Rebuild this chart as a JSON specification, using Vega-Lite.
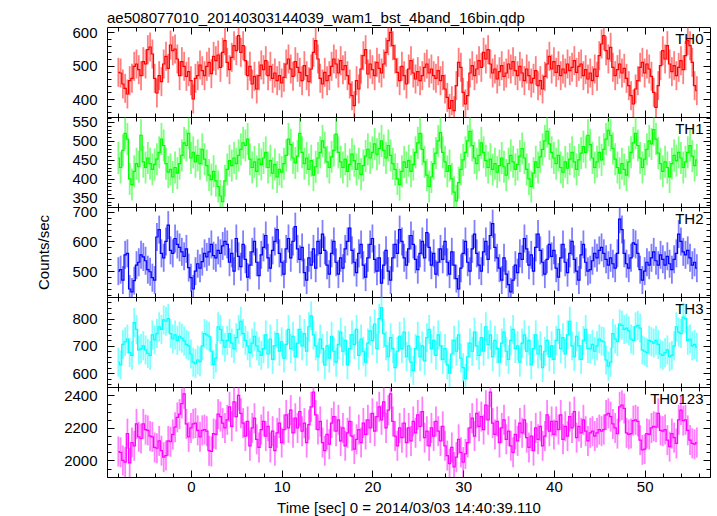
{
"$schema": "https://vega.github.io/schema/vega-lite/v6.json",
"background": "white",
"padding": {"left": 36, "top": 10, "right": 5, "bottom": 5},
"bounds": "flush",
"title": {"text": "ae508077010_20140303144039_wam1_bst_4band_16bin.qdp", "anchor": "start", "frame": "group", "baseline": "alphabetic", "offset": -13},
"config": {
 "font": "Liberation Sans",
 "view": {"stroke": "black", "strokeWidth": 1},
 "title": {"fontSize": 15, "fontWeight": "normal", "color": "black", "font": "Liberation Sans"},
 "axis": {"grid": false, "domain": false, "tickColor": "black", "tickWidth": 1, "labelColor": "black", "labelFontSize": 15, "labelFont": "Liberation Sans", "titleFont": "Liberation Sans", "titleFontSize": 15, "titleFontWeight": "normal", "titleColor": "black", "labelOverlap": false, "labelFlush": false}
},
"spacing": 0,
"data": {"values": [
{"t":-8,"TH0":480,"TH1":455,"TH2":500,"TH3":640,"TH0123":2055},
{"t":-7.75,"TH0":478,"TH1":430,"TH2":505,"TH3":630,"TH0123":2050},
{"t":-7.5,"TH0":445,"TH1":475,"TH2":470,"TH3":705,"TH0123":2000},
{"t":-7.25,"TH0":432,"TH1":520,"TH2":555,"TH3":715,"TH0123":1990},
{"t":-7,"TH0":415,"TH1":505,"TH2":560,"TH3":725,"TH0123":2165},
{"t":-6.75,"TH0":455,"TH1":400,"TH2":440,"TH3":675,"TH0123":1985},
{"t":-6.5,"TH0":462,"TH1":385,"TH2":430,"TH3":665,"TH0123":2110},
{"t":-6.25,"TH0":498,"TH1":420,"TH2":468,"TH3":785,"TH0123":2090},
{"t":-6,"TH0":505,"TH1":440,"TH2":520,"TH3":760,"TH0123":2225},
{"t":-5.75,"TH0":488,"TH1":432,"TH2":530,"TH3":685,"TH0123":2145},
{"t":-5.5,"TH0":470,"TH1":515,"TH2":555,"TH3":690,"TH0123":2135},
{"t":-5.25,"TH0":512,"TH1":445,"TH2":548,"TH3":700,"TH0123":2225},
{"t":-5,"TH0":505,"TH1":430,"TH2":535,"TH3":685,"TH0123":2190},
{"t":-4.75,"TH0":548,"TH1":455,"TH2":505,"TH3":672,"TH0123":2185},
{"t":-4.5,"TH0":556,"TH1":440,"TH2":498,"TH3":665,"TH0123":2150},
{"t":-4.25,"TH0":535,"TH1":425,"TH2":478,"TH3":740,"TH0123":2145},
{"t":-4,"TH0":462,"TH1":438,"TH2":470,"TH3":722,"TH0123":2080},
{"t":-3.75,"TH0":418,"TH1":452,"TH2":615,"TH3":745,"TH0123":2075},
{"t":-3.5,"TH0":470,"TH1":470,"TH2":640,"TH3":770,"TH0123":2120},
{"t":-3.25,"TH0":452,"TH1":505,"TH2":560,"TH3":760,"TH0123":2060},
{"t":-3,"TH0":505,"TH1":488,"TH2":545,"TH3":795,"TH0123":2020},
{"t":-2.75,"TH0":528,"TH1":440,"TH2":600,"TH3":790,"TH0123":2030},
{"t":-2.5,"TH0":492,"TH1":418,"TH2":655,"TH3":800,"TH0123":2120},
{"t":-2.25,"TH0":562,"TH1":425,"TH2":570,"TH3":745,"TH0123":2115},
{"t":-2,"TH0":545,"TH1":405,"TH2":560,"TH3":725,"TH0123":2160},
{"t":-1.75,"TH0":550,"TH1":430,"TH2":610,"TH3":740,"TH0123":2205},
{"t":-1.5,"TH0":520,"TH1":415,"TH2":590,"TH3":720,"TH0123":2265},
{"t":-1.25,"TH0":470,"TH1":440,"TH2":580,"TH3":735,"TH0123":2285},
{"t":-1,"TH0":512,"TH1":462,"TH2":565,"TH3":728,"TH0123":2350},
{"t":-0.75,"TH0":498,"TH1":495,"TH2":550,"TH3":718,"TH0123":2410},
{"t":-0.5,"TH0":468,"TH1":488,"TH2":575,"TH3":705,"TH0123":2225},
{"t":-0.25,"TH0":482,"TH1":520,"TH2":512,"TH3":700,"TH0123":2145},
{"t":0,"TH0":455,"TH1":455,"TH2":478,"TH3":670,"TH0123":2200},
{"t":0.25,"TH0":400,"TH1":470,"TH2":440,"TH3":640,"TH0123":2225},
{"t":0.5,"TH0":462,"TH1":445,"TH2":500,"TH3":635,"TH0123":2230},
{"t":0.75,"TH0":470,"TH1":462,"TH2":525,"TH3":648,"TH0123":2185},
{"t":1,"TH0":502,"TH1":440,"TH2":510,"TH3":642,"TH0123":2145},
{"t":1.25,"TH0":485,"TH1":478,"TH2":532,"TH3":700,"TH0123":2185},
{"t":1.5,"TH0":470,"TH1":452,"TH2":560,"TH3":745,"TH0123":2190},
{"t":1.75,"TH0":498,"TH1":435,"TH2":548,"TH3":740,"TH0123":2180},
{"t":2,"TH0":510,"TH1":410,"TH2":565,"TH3":735,"TH0123":2060},
{"t":2.25,"TH0":476,"TH1":398,"TH2":590,"TH3":680,"TH0123":2055},
{"t":2.5,"TH0":528,"TH1":420,"TH2":552,"TH3":632,"TH0123":2165},
{"t":2.75,"TH0":515,"TH1":395,"TH2":545,"TH3":655,"TH0123":2160},
{"t":3,"TH0":532,"TH1":380,"TH2":570,"TH3":770,"TH0123":2285},
{"t":3.25,"TH0":495,"TH1":355,"TH2":560,"TH3":760,"TH0123":2270},
{"t":3.5,"TH0":540,"TH1":340,"TH2":585,"TH3":720,"TH0123":2230},
{"t":3.75,"TH0":575,"TH1":395,"TH2":600,"TH3":695,"TH0123":2200},
{"t":4,"TH0":510,"TH1":425,"TH2":590,"TH3":720,"TH0123":2250},
{"t":4.25,"TH0":488,"TH1":448,"TH2":530,"TH3":745,"TH0123":2330},
{"t":4.5,"TH0":525,"TH1":435,"TH2":560,"TH3":710,"TH0123":2210},
{"t":4.75,"TH0":560,"TH1":455,"TH2":500,"TH3":690,"TH0123":2360},
{"t":5,"TH0":545,"TH1":440,"TH2":610,"TH3":730,"TH0123":2270},
{"t":5.25,"TH0":590,"TH1":462,"TH2":550,"TH3":760,"TH0123":2400},
{"t":5.5,"TH0":540,"TH1":478,"TH2":515,"TH3":790,"TH0123":2290},
{"t":5.75,"TH0":560,"TH1":495,"TH2":590,"TH3":745,"TH0123":2230},
{"t":6,"TH0":515,"TH1":488,"TH2":540,"TH3":720,"TH0123":2150},
{"t":6.25,"TH0":470,"TH1":505,"TH2":480,"TH3":700,"TH0123":2240},
{"t":6.5,"TH0":498,"TH1":452,"TH2":520,"TH3":675,"TH0123":2090},
{"t":6.75,"TH0":445,"TH1":430,"TH2":565,"TH3":710,"TH0123":2200},
{"t":7,"TH0":468,"TH1":445,"TH2":600,"TH3":735,"TH0123":2260},
{"t":7.25,"TH0":430,"TH1":420,"TH2":530,"TH3":700,"TH0123":2130},
{"t":7.5,"TH0":470,"TH1":452,"TH2":485,"TH3":680,"TH0123":2080},
{"t":7.75,"TH0":502,"TH1":438,"TH2":555,"TH3":665,"TH0123":2190},
{"t":8,"TH0":488,"TH1":455,"TH2":580,"TH3":690,"TH0123":2240},
{"t":8.25,"TH0":515,"TH1":470,"TH2":620,"TH3":740,"TH0123":2150},
{"t":8.5,"TH0":470,"TH1":430,"TH2":545,"TH3":670,"TH0123":2210},
{"t":8.75,"TH0":498,"TH1":448,"TH2":510,"TH3":725,"TH0123":2080},
{"t":9,"TH0":462,"TH1":415,"TH2":570,"TH3":650,"TH0123":2180},
{"t":9.25,"TH0":478,"TH1":438,"TH2":600,"TH3":700,"TH0123":2060},
{"t":9.5,"TH0":455,"TH1":405,"TH2":640,"TH3":745,"TH0123":2170},
{"t":9.75,"TH0":470,"TH1":425,"TH2":560,"TH3":680,"TH0123":2230},
{"t":10,"TH0":448,"TH1":418,"TH2":530,"TH3":715,"TH0123":2110},
{"t":10.25,"TH0":465,"TH1":440,"TH2":490,"TH3":655,"TH0123":2190},
{"t":10.5,"TH0":505,"TH1":462,"TH2":575,"TH3":705,"TH0123":2280},
{"t":10.75,"TH0":520,"TH1":505,"TH2":610,"TH3":760,"TH0123":2200},
{"t":11,"TH0":490,"TH1":490,"TH2":545,"TH3":690,"TH0123":2310},
{"t":11.25,"TH0":468,"TH1":455,"TH2":600,"TH3":735,"TH0123":2170},
{"t":11.5,"TH0":512,"TH1":442,"TH2":650,"TH3":660,"TH0123":2260},
{"t":11.75,"TH0":495,"TH1":460,"TH2":575,"TH3":710,"TH0123":2200},
{"t":12,"TH0":480,"TH1":520,"TH2":540,"TH3":760,"TH0123":2300},
{"t":12.25,"TH0":455,"TH1":470,"TH2":580,"TH3":700,"TH0123":2180},
{"t":12.5,"TH0":500,"TH1":440,"TH2":495,"TH3":745,"TH0123":2230},
{"t":12.75,"TH0":470,"TH1":455,"TH2":470,"TH3":680,"TH0123":2110},
{"t":13,"TH0":452,"TH1":425,"TH2":545,"TH3":770,"TH0123":2220},
{"t":13.25,"TH0":490,"TH1":448,"TH2":520,"TH3":810,"TH0123":2330},
{"t":13.5,"TH0":540,"TH1":410,"TH2":575,"TH3":740,"TH0123":2420},
{"t":13.75,"TH0":575,"TH1":432,"TH2":510,"TH3":700,"TH0123":2280},
{"t":14,"TH0":520,"TH1":455,"TH2":600,"TH3":660,"TH0123":2190},
{"t":14.25,"TH0":462,"TH1":470,"TH2":560,"TH3":725,"TH0123":2240},
{"t":14.5,"TH0":445,"TH1":500,"TH2":625,"TH3":690,"TH0123":2110},
{"t":14.75,"TH0":480,"TH1":482,"TH2":570,"TH3":630,"TH0123":2060},
{"t":15,"TH0":455,"TH1":445,"TH2":520,"TH3":700,"TH0123":2160},
{"t":15.25,"TH0":470,"TH1":430,"TH2":490,"TH3":655,"TH0123":2100},
{"t":15.5,"TH0":498,"TH1":458,"TH2":560,"TH3":735,"TH0123":2230},
{"t":15.75,"TH0":520,"TH1":475,"TH2":600,"TH3":680,"TH0123":2270},
{"t":16,"TH0":505,"TH1":518,"TH2":530,"TH3":640,"TH0123":2180},
{"t":16.25,"TH0":478,"TH1":470,"TH2":490,"TH3":705,"TH0123":2250},
{"t":16.5,"TH0":515,"TH1":445,"TH2":545,"TH3":750,"TH0123":2120},
{"t":16.75,"TH0":488,"TH1":430,"TH2":510,"TH3":680,"TH0123":2200},
{"t":17,"TH0":500,"TH1":452,"TH2":575,"TH3":720,"TH0123":2090},
{"t":17.25,"TH0":470,"TH1":420,"TH2":600,"TH3":630,"TH0123":2170},
{"t":17.5,"TH0":445,"TH1":438,"TH2":645,"TH3":690,"TH0123":2240},
{"t":17.75,"TH0":410,"TH1":465,"TH2":570,"TH3":740,"TH0123":2150},
{"t":18,"TH0":380,"TH1":448,"TH2":530,"TH3":705,"TH0123":2070},
{"t":18.25,"TH0":455,"TH1":425,"TH2":495,"TH3":760,"TH0123":2130},
{"t":18.5,"TH0":430,"TH1":440,"TH2":560,"TH3":665,"TH0123":2190},
{"t":18.75,"TH0":490,"TH1":412,"TH2":590,"TH3":725,"TH0123":2110},
{"t":19,"TH0":530,"TH1":435,"TH2":520,"TH3":680,"TH0123":2230},
{"t":19.25,"TH0":548,"TH1":460,"TH2":480,"TH3":640,"TH0123":2160},
{"t":19.5,"TH0":475,"TH1":478,"TH2":545,"TH3":710,"TH0123":2250},
{"t":19.75,"TH0":505,"TH1":455,"TH2":590,"TH3":755,"TH0123":2200},
{"t":20,"TH0":488,"TH1":470,"TH2":610,"TH3":720,"TH0123":2290},
{"t":20.25,"TH0":470,"TH1":492,"TH2":540,"TH3":780,"TH0123":2180},
{"t":20.5,"TH0":510,"TH1":465,"TH2":500,"TH3":690,"TH0123":2270},
{"t":20.75,"TH0":492,"TH1":480,"TH2":545,"TH3":800,"TH0123":2330},
{"t":21,"TH0":478,"TH1":500,"TH2":460,"TH3":840,"TH0123":2250},
{"t":21.25,"TH0":505,"TH1":475,"TH2":520,"TH3":745,"TH0123":2360},
{"t":21.5,"TH0":540,"TH1":455,"TH2":570,"TH3":700,"TH0123":2200},
{"t":21.75,"TH0":575,"TH1":488,"TH2":500,"TH3":660,"TH0123":2310},
{"t":22,"TH0":600,"TH1":462,"TH2":470,"TH3":730,"TH0123":2410},
{"t":22.25,"TH0":560,"TH1":440,"TH2":545,"TH3":690,"TH0123":2240},
{"t":22.5,"TH0":520,"TH1":425,"TH2":590,"TH3":620,"TH0123":2150},
{"t":22.75,"TH0":480,"TH1":400,"TH2":560,"TH3":680,"TH0123":2090},
{"t":23,"TH0":455,"TH1":385,"TH2":640,"TH3":735,"TH0123":2200},
{"t":23.25,"TH0":498,"TH1":420,"TH2":600,"TH3":690,"TH0123":2140},
{"t":23.5,"TH0":470,"TH1":445,"TH2":545,"TH3":750,"TH0123":2230},
{"t":23.75,"TH0":445,"TH1":430,"TH2":520,"TH3":660,"TH0123":2110},
{"t":24,"TH0":490,"TH1":448,"TH2":575,"TH3":700,"TH0123":2200},
{"t":24.25,"TH0":515,"TH1":420,"TH2":620,"TH3":640,"TH0123":2120},
{"t":24.5,"TH0":478,"TH1":438,"TH2":590,"TH3":610,"TH0123":2240},
{"t":24.75,"TH0":460,"TH1":470,"TH2":540,"TH3":690,"TH0123":2170},
{"t":25,"TH0":482,"TH1":495,"TH2":505,"TH3":735,"TH0123":2280},
{"t":25.25,"TH0":455,"TH1":520,"TH2":560,"TH3":660,"TH0123":2210},
{"t":25.5,"TH0":470,"TH1":478,"TH2":600,"TH3":700,"TH0123":2300},
{"t":25.75,"TH0":495,"TH1":445,"TH2":545,"TH3":645,"TH0123":2140},
{"t":26,"TH0":505,"TH1":410,"TH2":630,"TH3":730,"TH0123":2180},
{"t":26.25,"TH0":478,"TH1":380,"TH2":580,"TH3":760,"TH0123":2090},
{"t":26.5,"TH0":490,"TH1":405,"TH2":520,"TH3":690,"TH0123":2200},
{"t":26.75,"TH0":470,"TH1":440,"TH2":560,"TH3":720,"TH0123":2150},
{"t":27,"TH0":462,"TH1":468,"TH2":490,"TH3":665,"TH0123":2240},
{"t":27.25,"TH0":485,"TH1":500,"TH2":530,"TH3":740,"TH0123":2180},
{"t":27.5,"TH0":455,"TH1":522,"TH2":575,"TH3":700,"TH0123":2120},
{"t":27.75,"TH0":470,"TH1":470,"TH2":540,"TH3":650,"TH0123":2210},
{"t":28,"TH0":430,"TH1":445,"TH2":600,"TH3":690,"TH0123":2090},
{"t":28.25,"TH0":405,"TH1":420,"TH2":530,"TH3":630,"TH0123":2030},
{"t":28.5,"TH0":372,"TH1":435,"TH2":490,"TH3":600,"TH0123":1980},
{"t":28.75,"TH0":395,"TH1":400,"TH2":565,"TH3":670,"TH0123":2080},
{"t":29,"TH0":365,"TH1":365,"TH2":520,"TH3":720,"TH0123":1960},
{"t":29.25,"TH0":440,"TH1":342,"TH2":475,"TH3":680,"TH0123":2020},
{"t":29.5,"TH0":510,"TH1":390,"TH2":440,"TH3":740,"TH0123":2130},
{"t":29.75,"TH0":495,"TH1":425,"TH2":510,"TH3":655,"TH0123":2050},
{"t":30,"TH0":420,"TH1":450,"TH2":560,"TH3":620,"TH0123":1990},
{"t":30.25,"TH0":385,"TH1":470,"TH2":600,"TH3":580,"TH0123":2040},
{"t":30.5,"TH0":410,"TH1":500,"TH2":530,"TH3":660,"TH0123":2110},
{"t":30.75,"TH0":478,"TH1":525,"TH2":500,"TH3":710,"TH0123":2200},
{"t":31,"TH0":500,"TH1":488,"TH2":575,"TH3":680,"TH0123":2260},
{"t":31.25,"TH0":470,"TH1":455,"TH2":625,"TH3":750,"TH0123":2150},
{"t":31.5,"TH0":490,"TH1":440,"TH2":560,"TH3":700,"TH0123":2290},
{"t":31.75,"TH0":515,"TH1":462,"TH2":520,"TH3":665,"TH0123":2210},
{"t":32,"TH0":495,"TH1":495,"TH2":500,"TH3":730,"TH0123":2270},
{"t":32.25,"TH0":540,"TH1":470,"TH2":565,"TH3":680,"TH0123":2190},
{"t":32.5,"TH0":520,"TH1":448,"TH2":600,"TH3":770,"TH0123":2340},
{"t":32.75,"TH0":548,"TH1":430,"TH2":540,"TH3":705,"TH0123":2250},
{"t":33,"TH0":505,"TH1":452,"TH2":620,"TH3":740,"TH0123":2420},
{"t":33.25,"TH0":478,"TH1":425,"TH2":660,"TH3":660,"TH0123":2230},
{"t":33.5,"TH0":490,"TH1":440,"TH2":580,"TH3":720,"TH0123":2160},
{"t":33.75,"TH0":460,"TH1":418,"TH2":545,"TH3":690,"TH0123":2240},
{"t":34,"TH0":482,"TH1":435,"TH2":510,"TH3":640,"TH0123":2110},
{"t":34.25,"TH0":500,"TH1":455,"TH2":470,"TH3":710,"TH0123":2200},
{"t":34.5,"TH0":468,"TH1":432,"TH2":545,"TH3":750,"TH0123":2250},
{"t":34.75,"TH0":478,"TH1":410,"TH2":490,"TH3":680,"TH0123":2130},
{"t":35,"TH0":505,"TH1":440,"TH2":455,"TH3":650,"TH0123":2180},
{"t":35.25,"TH0":490,"TH1":462,"TH2":430,"TH3":720,"TH0123":2090},
{"t":35.5,"TH0":512,"TH1":445,"TH2":470,"TH3":760,"TH0123":2050},
{"t":35.75,"TH0":485,"TH1":425,"TH2":520,"TH3":690,"TH0123":2160},
{"t":36,"TH0":470,"TH1":438,"TH2":495,"TH3":700,"TH0123":2120},
{"t":36.25,"TH0":498,"TH1":460,"TH2":560,"TH3":640,"TH0123":2230},
{"t":36.5,"TH0":478,"TH1":480,"TH2":540,"TH3":710,"TH0123":2170},
{"t":36.75,"TH0":455,"TH1":455,"TH2":610,"TH3":740,"TH0123":2250},
{"t":37,"TH0":490,"TH1":425,"TH2":575,"TH3":680,"TH0123":2140},
{"t":37.25,"TH0":470,"TH1":400,"TH2":520,"TH3":720,"TH0123":2080},
{"t":37.5,"TH0":448,"TH1":380,"TH2":555,"TH3":630,"TH0123":2150},
{"t":37.75,"TH0":462,"TH1":415,"TH2":500,"TH3":690,"TH0123":2060},
{"t":38,"TH0":485,"TH1":445,"TH2":580,"TH3":740,"TH0123":2200},
{"t":38.25,"TH0":440,"TH1":430,"TH2":625,"TH3":670,"TH0123":2130},
{"t":38.5,"TH0":455,"TH1":458,"TH2":570,"TH3":700,"TH0123":2210},
{"t":38.75,"TH0":430,"TH1":478,"TH2":530,"TH3":620,"TH0123":2090},
{"t":39,"TH0":468,"TH1":500,"TH2":490,"TH3":680,"TH0123":2150},
{"t":39.25,"TH0":505,"TH1":525,"TH2":540,"TH3":720,"TH0123":2280},
{"t":39.5,"TH0":528,"TH1":492,"TH2":590,"TH3":660,"TH0123":2180},
{"t":39.75,"TH0":490,"TH1":470,"TH2":550,"TH3":700,"TH0123":2240},
{"t":40,"TH0":512,"TH1":455,"TH2":570,"TH3":650,"TH0123":2160},
{"t":40.25,"TH0":480,"TH1":440,"TH2":510,"TH3":720,"TH0123":2240},
{"t":40.5,"TH0":500,"TH1":462,"TH2":480,"TH3":760,"TH0123":2190},
{"t":40.75,"TH0":470,"TH1":430,"TH2":545,"TH3":690,"TH0123":2280},
{"t":41,"TH0":490,"TH1":418,"TH2":590,"TH3":730,"TH0123":2130},
{"t":41.25,"TH0":478,"TH1":445,"TH2":530,"TH3":670,"TH0123":2210},
{"t":41.5,"TH0":505,"TH1":428,"TH2":495,"TH3":740,"TH0123":2150},
{"t":41.75,"TH0":485,"TH1":452,"TH2":560,"TH3":790,"TH0123":2270},
{"t":42,"TH0":495,"TH1":470,"TH2":600,"TH3":700,"TH0123":2200},
{"t":42.25,"TH0":515,"TH1":445,"TH2":540,"TH3":660,"TH0123":2300},
{"t":42.5,"TH0":480,"TH1":425,"TH2":500,"TH3":735,"TH0123":2140},
{"t":42.75,"TH0":498,"TH1":450,"TH2":470,"TH3":700,"TH0123":2210},
{"t":43,"TH0":505,"TH1":468,"TH2":555,"TH3":650,"TH0123":2170},
{"t":43.25,"TH0":470,"TH1":485,"TH2":590,"TH3":720,"TH0123":2250},
{"t":43.5,"TH0":488,"TH1":470,"TH2":530,"TH3":760,"TH0123":2180},
{"t":43.75,"TH0":460,"TH1":515,"TH2":500,"TH3":690,"TH0123":2120},
{"t":44,"TH0":478,"TH1":490,"TH2":505,"TH3":690,"TH0123":2170},
{"t":44.25,"TH0":455,"TH1":455,"TH2":535,"TH3":705,"TH0123":2180},
{"t":44.5,"TH0":490,"TH1":430,"TH2":560,"TH3":680,"TH0123":2150},
{"t":44.75,"TH0":468,"TH1":445,"TH2":545,"TH3":700,"TH0123":2170},
{"t":45,"TH0":530,"TH1":470,"TH2":570,"TH3":725,"TH0123":2190},
{"t":45.25,"TH0":565,"TH1":450,"TH2":580,"TH3":718,"TH0123":2180},
{"t":45.5,"TH0":590,"TH1":478,"TH2":560,"TH3":715,"TH0123":2190},
{"t":45.75,"TH0":545,"TH1":505,"TH2":540,"TH3":648,"TH0123":2280},
{"t":46,"TH0":520,"TH1":528,"TH2":520,"TH3":625,"TH0123":2290},
{"t":46.25,"TH0":555,"TH1":515,"TH2":545,"TH3":640,"TH0123":2270},
{"t":46.5,"TH0":495,"TH1":480,"TH2":525,"TH3":745,"TH0123":2225},
{"t":46.75,"TH0":470,"TH1":452,"TH2":510,"TH3":725,"TH0123":2200},
{"t":47,"TH0":488,"TH1":430,"TH2":560,"TH3":715,"TH0123":2165},
{"t":47.25,"TH0":505,"TH1":415,"TH2":675,"TH3":780,"TH0123":2330},
{"t":47.5,"TH0":478,"TH1":440,"TH2":640,"TH3":775,"TH0123":2340},
{"t":47.75,"TH0":492,"TH1":425,"TH2":560,"TH3":760,"TH0123":2320},
{"t":48,"TH0":462,"TH1":410,"TH2":525,"TH3":765,"TH0123":2170},
{"t":48.25,"TH0":440,"TH1":445,"TH2":510,"TH3":755,"TH0123":2160},
{"t":48.5,"TH0":410,"TH1":470,"TH2":545,"TH3":725,"TH0123":2165},
{"t":48.75,"TH0":385,"TH1":495,"TH2":595,"TH3":720,"TH0123":2245},
{"t":49,"TH0":430,"TH1":520,"TH2":590,"TH3":770,"TH0123":2250},
{"t":49.25,"TH0":455,"TH1":488,"TH2":560,"TH3":775,"TH0123":2240},
{"t":49.5,"TH0":495,"TH1":455,"TH2":505,"TH3":765,"TH0123":2125},
{"t":49.75,"TH0":510,"TH1":430,"TH2":470,"TH3":685,"TH0123":2065},
{"t":50,"TH0":478,"TH1":452,"TH2":500,"TH3":680,"TH0123":2070},
{"t":50.25,"TH0":505,"TH1":478,"TH2":530,"TH3":675,"TH0123":2165},
{"t":50.5,"TH0":490,"TH1":500,"TH2":520,"TH3":720,"TH0123":2160},
{"t":50.75,"TH0":468,"TH1":492,"TH2":545,"TH3":715,"TH0123":2200},
{"t":51,"TH0":420,"TH1":530,"TH2":565,"TH3":710,"TH0123":2210},
{"t":51.25,"TH0":375,"TH1":505,"TH2":535,"TH3":720,"TH0123":2205},
{"t":51.5,"TH0":440,"TH1":468,"TH2":520,"TH3":705,"TH0123":2290},
{"t":51.75,"TH0":500,"TH1":440,"TH2":555,"TH3":670,"TH0123":2185},
{"t":52,"TH0":545,"TH1":420,"TH2":540,"TH3":665,"TH0123":2180},
{"t":52.25,"TH0":520,"TH1":445,"TH2":520,"TH3":675,"TH0123":2190},
{"t":52.5,"TH0":560,"TH1":430,"TH2":550,"TH3":685,"TH0123":2125},
{"t":52.75,"TH0":505,"TH1":405,"TH2":525,"TH3":660,"TH0123":2085},
{"t":53,"TH0":482,"TH1":440,"TH2":505,"TH3":665,"TH0123":2165},
{"t":53.25,"TH0":500,"TH1":462,"TH2":540,"TH3":700,"TH0123":2140},
{"t":53.5,"TH0":470,"TH1":448,"TH2":560,"TH3":770,"TH0123":2105},
{"t":53.75,"TH0":495,"TH1":470,"TH2":625,"TH3":750,"TH0123":2250},
{"t":54,"TH0":515,"TH1":455,"TH2":600,"TH3":745,"TH0123":2310},
{"t":54.25,"TH0":488,"TH1":430,"TH2":565,"TH3":805,"TH0123":2245},
{"t":54.5,"TH0":530,"TH1":445,"TH2":555,"TH3":800,"TH0123":2250},
{"t":54.75,"TH0":575,"TH1":470,"TH2":570,"TH3":720,"TH0123":2185},
{"t":55,"TH0":560,"TH1":488,"TH2":545,"TH3":725,"TH0123":2125},
{"t":55.25,"TH0":510,"TH1":460,"TH2":520,"TH3":700,"TH0123":2105},
{"t":55.5,"TH0":440,"TH1":435,"TH2":530,"TH3":705,"TH0123":2100},
{"t":55.75,"TH0":425,"TH1":450,"TH2":510,"TH3":695,"TH0123":2110}
]},
"vconcat": [
{
 "width": 603, "height": 90,
 "layer": [
  {"mark": {"type": "line", "interpolate": "step", "color": "#ff0000", "strokeWidth": 1.2, "clip": true},
   "encoding": {
    "x": {"field": "t", "type": "quantitative", "scale": {"domain": [-9.25, 57.2], "nice": false, "zero": false},
          "axis": {"orient": "bottom", "values": [-8,-6,-4,-2,0,2,4,6,8,10,12,14,16,18,20,22,24,26,28,30,32,34,36,38,40,42,44,46,48,50,52,54,56], "labels": false, "title": null, "tickSize": {"condition": {"test": "datum.value % 10 === 0", "value": -7}, "value": -4}}},
    "y": {"field": "TH0", "type": "quantitative", "scale": {"domain": [346, 616], "nice": false, "zero": false},
          "axis": {"orient": "left", "values": [360,380,400,420,440,460,480,500,520,540,560,580,600], "title": null, "labelPadding": 17, "labelExpr": "datum.value % 100 === 0 ? datum.label : ''", "tickSize": {"condition": {"test": "datum.value % 100 === 0", "value": -7}, "value": -4}}}
   }},
  {"mark": {"type": "tick", "orient": "vertical", "size": 29, "thickness": 1.8, "color": "#ff0000", "opacity": 0.5, "clip": true},
   "encoding": {
    "x": {"field": "t", "type": "quantitative",
          "axis": {"orient": "top", "values": [-8,-6,-4,-2,0,2,4,6,8,10,12,14,16,18,20,22,24,26,28,30,32,34,36,38,40,42,44,46,48,50,52,54,56], "labels": false, "title": null, "tickSize": {"condition": {"test": "datum.value % 10 === 0", "value": -7}, "value": -4}}},
    "y": {"field": "TH0", "type": "quantitative",
          "axis": {"orient": "right", "values": [360,380,400,420,440,460,480,500,520,540,560,580,600], "labels": false, "title": "TH0", "titleAngle": 0, "titleAlign": "right", "titleBaseline": "alphabetic", "titleX": -7, "titleY": 16, "tickSize": {"condition": {"test": "datum.value % 100 === 0", "value": -7}, "value": -4}}}
   }}
 ],
 "resolve": {"axis": {"x": "independent", "y": "independent"}}
},
{
 "width": 603, "height": 90,
 "layer": [
  {"mark": {"type": "line", "interpolate": "step", "color": "#00ff00", "strokeWidth": 1.2, "clip": true},
   "encoding": {
    "x": {"field": "t", "type": "quantitative", "scale": {"domain": [-9.25, 57.2], "nice": false, "zero": false},
          "axis": {"orient": "bottom", "values": [-8,-6,-4,-2,0,2,4,6,8,10,12,14,16,18,20,22,24,26,28,30,32,34,36,38,40,42,44,46,48,50,52,54,56], "labels": false, "title": null, "tickSize": {"condition": {"test": "datum.value % 10 === 0", "value": -7}, "value": -4}}},
    "y": {"field": "TH1", "type": "quantitative", "scale": {"domain": [326, 563], "nice": false, "zero": false},
          "axis": {"orient": "left", "values": [330,340,350,360,370,380,390,400,410,420,430,440,450,460,470,480,490,500,510,520,530,540,550,560], "title": null, "labelPadding": 17, "labelExpr": "datum.value % 50 === 0 ? datum.label : ''", "tickSize": {"condition": {"test": "datum.value % 50 === 0", "value": -7}, "value": -4}}}
   }},
  {"mark": {"type": "tick", "orient": "vertical", "size": 32, "thickness": 1.8, "color": "#00ff00", "opacity": 0.5, "clip": true},
   "encoding": {
    "x": {"field": "t", "type": "quantitative",
          "axis": {"orient": "top", "values": [-8,-6,-4,-2,0,2,4,6,8,10,12,14,16,18,20,22,24,26,28,30,32,34,36,38,40,42,44,46,48,50,52,54,56], "labels": false, "title": null, "tickSize": {"condition": {"test": "datum.value % 10 === 0", "value": -7}, "value": -4}}},
    "y": {"field": "TH1", "type": "quantitative",
          "axis": {"orient": "right", "values": [330,340,350,360,370,380,390,400,410,420,430,440,450,460,470,480,490,500,510,520,530,540,550,560], "labels": false, "title": "TH1", "titleAngle": 0, "titleAlign": "right", "titleBaseline": "alphabetic", "titleX": -7, "titleY": 16, "tickSize": {"condition": {"test": "datum.value % 50 === 0", "value": -7}, "value": -4}}}
   }}
 ],
 "resolve": {"axis": {"x": "independent", "y": "independent"}}
},
{
 "width": 603, "height": 90,
 "layer": [
  {"mark": {"type": "line", "interpolate": "step", "color": "#0000ff", "strokeWidth": 1.2, "clip": true},
   "encoding": {
    "x": {"field": "t", "type": "quantitative", "scale": {"domain": [-9.25, 57.2], "nice": false, "zero": false},
          "axis": {"orient": "bottom", "values": [-8,-6,-4,-2,0,2,4,6,8,10,12,14,16,18,20,22,24,26,28,30,32,34,36,38,40,42,44,46,48,50,52,54,56], "labels": false, "title": null, "tickSize": {"condition": {"test": "datum.value % 10 === 0", "value": -7}, "value": -4}}},
    "y": {"field": "TH2", "type": "quantitative", "scale": {"domain": [413, 716], "nice": false, "zero": false},
          "axis": {"orient": "left", "values": [420,440,460,480,500,520,540,560,580,600,620,640,660,680,700], "title": "Counts/sec", "titlePadding": 20, "labelPadding": 17, "labelExpr": "datum.value % 100 === 0 ? datum.label : ''", "tickSize": {"condition": {"test": "datum.value % 100 === 0", "value": -7}, "value": -4}}}
   }},
  {"mark": {"type": "tick", "orient": "vertical", "size": 28, "thickness": 1.8, "color": "#0000ff", "opacity": 0.5, "clip": true},
   "encoding": {
    "x": {"field": "t", "type": "quantitative",
          "axis": {"orient": "top", "values": [-8,-6,-4,-2,0,2,4,6,8,10,12,14,16,18,20,22,24,26,28,30,32,34,36,38,40,42,44,46,48,50,52,54,56], "labels": false, "title": null, "tickSize": {"condition": {"test": "datum.value % 10 === 0", "value": -7}, "value": -4}}},
    "y": {"field": "TH2", "type": "quantitative",
          "axis": {"orient": "right", "values": [420,440,460,480,500,520,540,560,580,600,620,640,660,680,700], "labels": false, "title": "TH2", "titleAngle": 0, "titleAlign": "right", "titleBaseline": "alphabetic", "titleX": -7, "titleY": 16, "tickSize": {"condition": {"test": "datum.value % 100 === 0", "value": -7}, "value": -4}}}
   }}
 ],
 "resolve": {"axis": {"x": "independent", "y": "independent"}}
},
{
 "width": 603, "height": 90,
 "layer": [
  {"mark": {"type": "line", "interpolate": "step", "color": "#00ffff", "strokeWidth": 1.2, "clip": true},
   "encoding": {
    "x": {"field": "t", "type": "quantitative", "scale": {"domain": [-9.25, 57.2], "nice": false, "zero": false},
          "axis": {"orient": "bottom", "values": [-8,-6,-4,-2,0,2,4,6,8,10,12,14,16,18,20,22,24,26,28,30,32,34,36,38,40,42,44,46,48,50,52,54,56], "labels": false, "title": null, "tickSize": {"condition": {"test": "datum.value % 10 === 0", "value": -7}, "value": -4}}},
    "y": {"field": "TH3", "type": "quantitative", "scale": {"domain": [549, 879], "nice": false, "zero": false},
          "axis": {"orient": "left", "values": [560,580,600,620,640,660,680,700,720,740,760,780,800,820,840,860], "title": null, "labelPadding": 17, "labelExpr": "datum.value % 100 === 0 ? datum.label : ''", "tickSize": {"condition": {"test": "datum.value % 100 === 0", "value": -7}, "value": -4}}}
   }},
  {"mark": {"type": "tick", "orient": "vertical", "size": 29, "thickness": 1.8, "color": "#00ffff", "opacity": 0.5, "clip": true},
   "encoding": {
    "x": {"field": "t", "type": "quantitative",
          "axis": {"orient": "top", "values": [-8,-6,-4,-2,0,2,4,6,8,10,12,14,16,18,20,22,24,26,28,30,32,34,36,38,40,42,44,46,48,50,52,54,56], "labels": false, "title": null, "tickSize": {"condition": {"test": "datum.value % 10 === 0", "value": -7}, "value": -4}}},
    "y": {"field": "TH3", "type": "quantitative",
          "axis": {"orient": "right", "values": [560,580,600,620,640,660,680,700,720,740,760,780,800,820,840,860], "labels": false, "title": "TH3", "titleAngle": 0, "titleAlign": "right", "titleBaseline": "alphabetic", "titleX": -7, "titleY": 16, "tickSize": {"condition": {"test": "datum.value % 100 === 0", "value": -7}, "value": -4}}}
   }}
 ],
 "resolve": {"axis": {"x": "independent", "y": "independent"}}
},
{
 "width": 603, "height": 90,
 "layer": [
  {"mark": {"type": "line", "interpolate": "step", "color": "#ff00ff", "strokeWidth": 1.2, "clip": true},
   "encoding": {
    "x": {"field": "t", "type": "quantitative", "scale": {"domain": [-9.25, 57.2], "nice": false, "zero": false},
          "axis": {"orient": "bottom", "values": [-8,-6,-4,-2,0,2,4,6,8,10,12,14,16,18,20,22,24,26,28,30,32,34,36,38,40,42,44,46,48,50,52,54,56], "labels": true, "labelPadding": 9, "labelExpr": "datum.value % 10 === 0 ? datum.label : ''", "title": "Time [sec] 0 = 2014/03/03 14:40:39.110", "titlePadding": 3, "tickSize": {"condition": {"test": "datum.value % 10 === 0", "value": -7}, "value": -4}}},
    "y": {"field": "TH0123", "type": "quantitative", "scale": {"domain": [1898, 2452], "nice": false, "zero": false},
          "axis": {"orient": "left", "values": [1900,1950,2000,2050,2100,2150,2200,2250,2300,2350,2400,2450], "format": "d", "title": null, "labelPadding": 17, "labelExpr": "datum.value % 200 === 0 ? datum.label : ''", "tickSize": {"condition": {"test": "datum.value % 200 === 0", "value": -7}, "value": -4}}}
   }},
  {"mark": {"type": "tick", "orient": "vertical", "size": 30, "thickness": 1.8, "color": "#ff00ff", "opacity": 0.5, "clip": true},
   "encoding": {
    "x": {"field": "t", "type": "quantitative",
          "axis": {"orient": "top", "values": [-8,-6,-4,-2,0,2,4,6,8,10,12,14,16,18,20,22,24,26,28,30,32,34,36,38,40,42,44,46,48,50,52,54,56], "labels": false, "title": null, "tickSize": {"condition": {"test": "datum.value % 10 === 0", "value": -7}, "value": -4}}},
    "y": {"field": "TH0123", "type": "quantitative",
          "axis": {"orient": "right", "values": [1900,1950,2000,2050,2100,2150,2200,2250,2300,2350,2400,2450], "labels": false, "title": "TH0123", "titleAngle": 0, "titleAlign": "right", "titleBaseline": "alphabetic", "titleX": -7, "titleY": 16, "tickSize": {"condition": {"test": "datum.value % 200 === 0", "value": -7}, "value": -4}}}
   }}
 ],
 "resolve": {"axis": {"x": "independent", "y": "independent"}}
}
]
}
